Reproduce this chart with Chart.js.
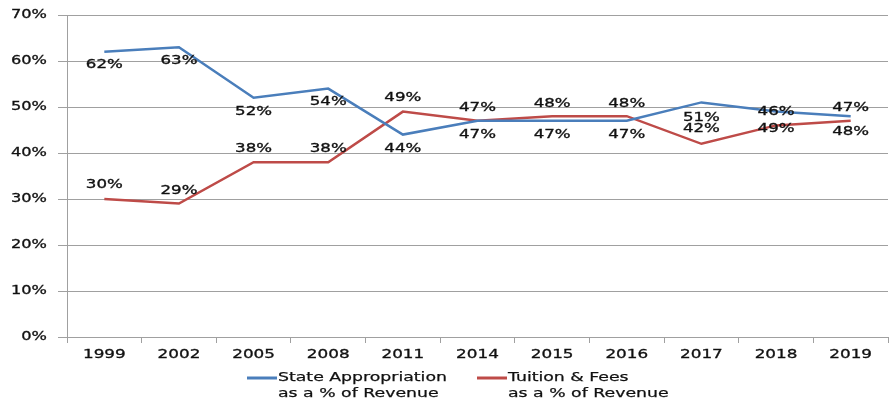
<!DOCTYPE html>
<html>
<head>
<meta charset="utf-8">
<script src="https://cdn.jsdelivr.net/npm/chart.js@4/dist/chart.umd.min.js"></script>
<style>
  html, body { margin: 0; padding: 0; background: #fff; }
  #wrap { width: 889px; height: 404px; }
</style>
</head>
<body>
<div id="wrap"><canvas id="c"></canvas></div>
<script>
const years = ["1999", "2002", "2005", "2008", "2011", "2014", "2015", "2016", "2017", "2018", "2019"];
const stateShare = [62, 63, 52, 54, 44, 47, 47, 47, 51, 49, 48];
const tuitionShare = [30, 29, 38, 38, 49, 47, 48, 48, 42, 46, 47];
// the printed labels in the source don't all match the plotted points
const stateLabels = ["62%", "63%", "52%", "54%", "44%", "47%", "47%", "47%", "51%", "46%", "47%"];
const tuitionLabels = ["30%", "29%", "38%", "38%", "49%", "47%", "48%", "48%", "42%", "49%", "48%"];
const yTicks = [0, 10, 20, 30, 40, 50, 60, 70];

const BLUE = "#4a7ebb", RED = "#be4b48", GRID = "#a0a0a0", INK = "#111";
const FONT = "'DejaVu Sans', sans-serif";

// vertical offset of each value label from its point (px, + = below)
const labelShift = [
    [13, 13, 14, 13, 14, 14, 14, 14, 15, 0, -9],
    [-14, -13, -14, -14, -14, -13, -13, -13, -15, 3, 11]
];

// the source text is stretched sideways, so draw it with a horizontal scale
function wideText(ctx, text, x, y, sx) {
    ctx.save();
    ctx.translate(x, y);
    ctx.scale(sx, 1);
    ctx.fillText(text, 0, 0);
    ctx.strokeText(text, 0, 0);
    ctx.restore();
}

const valueLabels = {
    id: "valueLabels",
    afterDatasetsDraw(c) {
        const ctx = c.ctx;
        const texts = [stateLabels, tuitionLabels];
        ctx.save();
        ctx.fillStyle = INK;
        ctx.strokeStyle = INK;
        ctx.lineWidth = 0.35;
        ctx.font = "13px " + FONT;
        ctx.textAlign = "center";
        ctx.textBaseline = "middle";
        c.data.datasets.forEach((ds, i) => {
            c.getDatasetMeta(i).data.forEach((pt, j) => {
                wideText(ctx, texts[i][j], pt.x, pt.y + labelShift[i][j], 1.28);
            });
        });
        ctx.restore();
    }
};

const axisText = {
    id: "axisText",
    afterDraw(c) {
        const ctx = c.ctx;
        const xs = c.scales.x, ys = c.scales.y;
        ctx.save();
        ctx.fillStyle = INK;
        ctx.strokeStyle = INK;
        ctx.lineWidth = 0.3;
        ctx.font = "12px " + FONT;
        ctx.textBaseline = "middle";
        ctx.textAlign = "center";
        xs.ticks.forEach((t, i) => {
            wideText(ctx, xs.getLabelForValue(t.value), xs.getPixelForTick(i), 355, 1.4);
        });
        ctx.textAlign = "right";
        ys.ticks.forEach(t => {
            wideText(ctx, t.value + "%", 47, ys.getPixelForValue(t.value), 1.35);
        });
        ctx.restore();
    }
};

const twoLineLegend = {
    id: "twoLineLegend",
    afterDraw(c) {
        const ctx = c.ctx;
        const items = [
            { color: BLUE, x: 247, lines: ["State Appropriation", "as a % of Revenue"] },
            { color: RED, x: 477, lines: ["Tuition & Fees", "as a % of Revenue"] }
        ];
        ctx.save();
        ctx.font = "13px " + FONT;
        ctx.fillStyle = INK;
        ctx.strokeStyle = INK;
        ctx.lineWidth = 0.25;
        ctx.textBaseline = "middle";
        items.forEach(it => {
            ctx.save();
            ctx.strokeStyle = it.color;
            ctx.lineWidth = 3;
            ctx.beginPath();
            ctx.moveTo(it.x, 378);
            ctx.lineTo(it.x + 30, 378);
            ctx.stroke();
            ctx.restore();
            it.lines.forEach((t, k) => wideText(ctx, t, it.x + 31, 378 + k * 16, 1.33));
        });
        ctx.restore();
    }
};

new Chart(document.getElementById("c"), {
    type: "line",
    data: {
        labels: years,
        datasets: [
            { label: "State Appropriation as a % of Revenue", data: stateShare, borderColor: BLUE, backgroundColor: BLUE },
            { label: "Tuition & Fees as a % of Revenue", data: tuitionShare, borderColor: RED, backgroundColor: RED }
        ]
    },
    options: {
        responsive: true,
        maintainAspectRatio: false,
        animation: false,
        layout: { padding: { top: 15, right: 1, left: 0, bottom: 0 } },
        elements: {
            line: { borderWidth: 2.5, tension: 0 },
            point: { radius: 0, hoverRadius: 0 }
        },
        plugins: {
            legend: { display: false },
            tooltip: { enabled: false }
        },
        scales: {
            x: {
                offset: true,
                grid: { offset: true, drawOnChartArea: false, color: GRID, tickLength: 6 },
                border: { color: GRID },
                ticks: { display: false },
                afterFit: s => { s.height = 67; }
            },
            y: {
                min: 0,
                max: 70,
                afterBuildTicks: s => { s.ticks = yTicks.map(v => ({ value: v })); },
                grid: { color: GRID, tickLength: 9 },
                border: { color: GRID },
                ticks: { display: false },
                afterFit: s => { s.width = 67; }
            }
        }
    },
    plugins: [valueLabels, axisText, twoLineLegend]
});
</script>
</body>
</html>
